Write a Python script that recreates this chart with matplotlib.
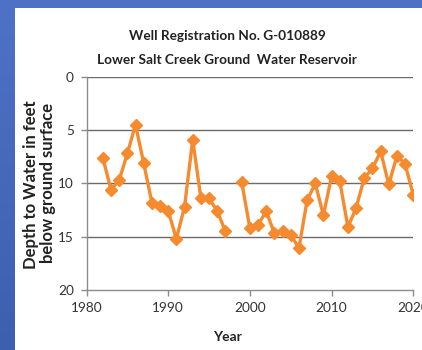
import numpy as np
import matplotlib
matplotlib.use("Agg")
import matplotlib.pyplot as plt
from matplotlib.patches import Rectangle
from matplotlib.colors import LinearSegmentedColormap

# Water-level record (depth below ground surface, feet); 1998 has no reading
years = [1982, 1983, 1984, 1985, 1986, 1987, 1988, 1989, 1990, 1991,
         1992, 1993, 1994, 1995, 1996, 1997, 1998, 1999, 2000, 2001,
         2002, 2003, 2004, 2005, 2006, 2007, 2008, 2009, 2010, 2011,
         2012, 2013, 2014, 2015, 2016, 2017, 2018, 2019, 2020]
depth_ft = [7.6, 10.6, 9.7, 7.2, 4.5, 8.1, 11.8, 12.1, 12.6, 15.2,
            12.2, 5.9, 11.4, 11.4, 12.6, 14.5, np.nan, 9.9, 14.2, 13.9,
            12.6, 14.7, 14.5, 14.8, 16.1, 11.6, 10.0, 13.0, 9.3, 9.8,
            14.1, 12.3, 9.5, 8.6, 7.0, 10.1, 7.4, 8.2, 11.1]

y_ticks = [0, 5, 10, 15, 20]
x_ticks = [1980, 1990, 2000, 2010, 2020]
x_tick_labels = ["1980", "1990", "2000", "2010", "2020"]

title_line1 = "Well Registration No. G-010889"
title_line2 = "Lower Salt Creek Ground  Water Reservoir"
y_label_line1 = "Depth to Water in feet"
y_label_line2 = "below ground surface"
x_label = "Year"

W, H = 422, 350
fig = plt.figure(figsize=(W / 100, H / 100), dpi=100)

# slide backdrop: blue gradient with a white panel
bg = fig.add_axes([0, 0, 1, 1], zorder=-10)
grad = np.linspace(0, 1, 256).reshape(-1, 1)
cmap = LinearSegmentedColormap.from_list("slide", ["#4e72c6", "#3d5fb0"])
bg.imshow(grad, aspect="auto", cmap=cmap, extent=[0, 1, 0, 1], origin="upper")
bg.add_patch(Rectangle((15 / W, 0), 1, 1 - 8 / H, facecolor="white",
                       edgecolor="none", transform=bg.transAxes))
bg.set_xlim(0, 1)
bg.set_ylim(0, 1)
bg.axis("off")

ax = fig.add_axes([86.5 / W, 1 - 290 / H, (413.3 - 86.5) / W, (290 - 76.7) / H])
ax.set_facecolor("none")

line_color = "#f68a2e"
ax.plot(years, depth_ft, color=line_color, lw=2.4, marker="D", ms=6.3,
        markeredgecolor=line_color, zorder=3)

ax.set_xlim(1980, 2020)
ax.set_ylim(20, 0)
ax.set_yticks(y_ticks)
ax.set_xticks(x_ticks)
ax.set_xticklabels(x_tick_labels)

for y in y_ticks[:-1]:
    ax.axhline(y, color="#6b6b6b", lw=1.0, zorder=1)

for s in ["top", "right"]:
    ax.spines[s].set_visible(False)
for s in ["left", "bottom"]:
    ax.spines[s].set_color("#8c8c8c")
    ax.spines[s].set_linewidth(1.0)

tick_family = ["Lato", "DejaVu Sans"]
ax.tick_params(axis="both", colors="#8c8c8c", labelcolor="#333333",
               length=4, width=1.0, direction="out")
for lab in ax.get_xticklabels() + ax.get_yticklabels():
    lab.set_fontfamily(tick_family)
    lab.set_fontsize(9.8)
ax.tick_params(axis="y", pad=5)
ax.tick_params(axis="x", pad=5)

bold = dict(family=["Lato", "DejaVu Sans"], weight="bold", color="#222222")
fig.text(227 / W, 1 - 36 / H, title_line1, ha="center", va="center",
         fontsize=9.8, **bold)
fig.text(227 / W, 1 - 60 / H, title_line2, ha="center", va="center",
         fontsize=9.8, **bold)
fig.text(31.5 / W, 1 - 185 / H, y_label_line1, ha="center", va="center",
         rotation=90, fontsize=12.0, **bold)
fig.text(48 / W, 1 - 183 / H, y_label_line2, ha="center", va="center",
         rotation=90, fontsize=12.0, **bold)
fig.text(227 / W, 1 - 337 / H, x_label, ha="center", va="center",
         fontsize=10, **bold)

fig.savefig("out.png", dpi=100)
